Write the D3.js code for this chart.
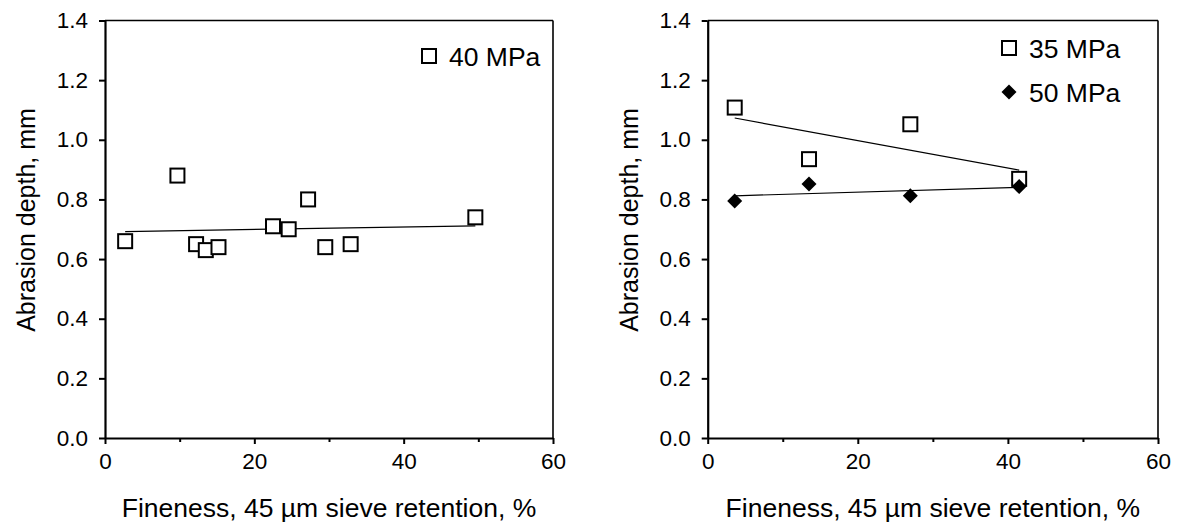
<!DOCTYPE html>
<html>
<head>
<meta charset="utf-8">
<script src="https://d3js.org/d3.v7.min.js"></script>
<style>
body{margin:0;background:#fff;}
text{font-family:"Liberation Sans",Arial,sans-serif;fill:#000;}
</style>
</head>
<body>
<svg width="1178" height="531"></svg>
<script>
// data
var xTickVals=[0,20,40,60];
var xMinorVals=[10,30,50];
var yTickVals=[0,0.2,0.4,0.6,0.8,1.0,1.2,1.4];

var fine40=[2.7,9.7,12.2,13.5,15.2,22.5,24.6,27.2,29.5,32.9,49.6];
var depth40=[0.66,0.88,0.65,0.63,0.64,0.71,0.70,0.80,0.64,0.65,0.74];

var fine35=[3.6,13.5,27.0,41.5];
var depth35=[1.108,0.935,1.052,0.869];

var fine50=[3.6,13.5,27.0,41.5];
var depth50=[0.795,0.852,0.812,0.843];

var xTitle="Fineness, 45 µm sieve retention, %";
var yTitle="Abrasion depth, mm";

var svg=d3.select("svg");

function fit(xs,ys)
{
	var mx=d3.mean(xs),my=d3.mean(ys);
	var sxy=d3.sum(xs,(x,i)=>(x-mx)*(ys[i]-my));
	var sxx=d3.sum(xs,x=>(x-mx)*(x-mx));
	var b=sxy/sxx;
	return x=>my+b*(x-mx);
}

function panel(left,right,series)
{
	var top=20.5,bottom=438;
	var scalex=d3.scaleLinear().domain([0,60]).range([left,right]);
	var scaley=d3.scaleLinear().domain([0,1.4]).range([bottom,top]);
	var g=svg.append("g");

	// frame top / right
	g.append("line").attr("x1",left).attr("x2",right).attr("y1",top).attr("y2",top)
		.attr("stroke","#000").attr("stroke-width",1.6);
	g.append("line").attr("x1",right).attr("x2",right).attr("y1",top).attr("y2",bottom)
		.attr("stroke","#000").attr("stroke-width",1.6);

	var xaxis=d3.axisBottom(scalex).tickValues(xTickVals).tickSize(6).tickSizeOuter(0).tickPadding(9);
	var gx=g.append("g").attr("transform","translate(0,"+bottom+")").call(xaxis);
	gx.selectAll(".tick text").style("font-size","22.5px");
	g.append("g").attr("transform","translate(0,"+bottom+")")
		.call(d3.axisBottom(scalex).tickValues(xMinorVals).tickSize(4).tickSizeOuter(0).tickFormat(""))
		.select(".domain").remove();

	var yaxis=d3.axisLeft(scaley).tickValues(yTickVals).tickSize(6).tickSizeOuter(0).tickPadding(11)
		.tickFormat(d3.format(".1f"));
	var gy=g.append("g").attr("transform","translate("+left+",0)").call(yaxis);
	gy.selectAll(".tick text").style("font-size","22.5px");

	svg.selectAll(".domain").attr("stroke-width",2.2);
	svg.selectAll(".tick line").attr("stroke-width",2);

	g.append("text").attr("x",(left+right)/2).attr("y",517).attr("text-anchor","middle")
		.style("font-size","26.5px").text(xTitle);
	g.append("text").attr("transform","translate("+(left-70)+","+220+") rotate(-90)")
		.attr("text-anchor","middle").style("font-size","25px").text(yTitle);

	series.forEach(function(s)
	{
		var f=fit(s.x,s.y);
		var xa=d3.min(s.x),xb=d3.max(s.x);
		g.append("line").attr("x1",scalex(xa)).attr("y1",scaley(f(xa)))
			.attr("x2",scalex(xb)).attr("y2",scaley(f(xb)))
			.attr("stroke","#000").attr("stroke-width",1.2);
	});

	series.forEach(function(s,k)
	{
		var pts=s.x.map((x,i)=>[x,s.y[i]]);
		drawMarks(g.selectAll(".m"+k).data(pts).enter(),s.shape,d=>scalex(d[0]),d=>scaley(d[1]));

		var ly=s.legendY;
		drawMarks(g.selectAll(".l"+k).data([0]).enter(),s.shape,()=>s.legendX,()=>ly);
		g.append("text").attr("x",s.legendX+20).attr("y",ly+10).style("font-size","26.5px").text(s.label);
	});
}

function drawMarks(sel,shape,fx,fy)
{
	if(shape=="square")
	{
		sel.append("rect").attr("x",d=>fx(d)-7).attr("y",d=>fy(d)-7)
			.attr("width",14).attr("height",14)
			.attr("fill","#fff").attr("stroke","#000").attr("stroke-width",2);
	}
	else
	{
		sel.append("path").attr("d","M0,-7.5L7.5,0L0,7.5L-7.5,0Z")
			.attr("transform",d=>"translate("+fx(d)+","+fy(d)+")")
			.attr("fill","#000");
	}
}

panel(105,553,[
	{x:fine40,y:depth40,shape:"square",label:"40 MPa",legendX:429,legendY:56}
]);
panel(707.7,1158,[
	{x:fine35,y:depth35,shape:"square",label:"35 MPa",legendX:1009,legendY:48},
	{x:fine50,y:depth50,shape:"diamond",label:"50 MPa",legendX:1009,legendY:92}
]);
</script>
</body>
</html>
